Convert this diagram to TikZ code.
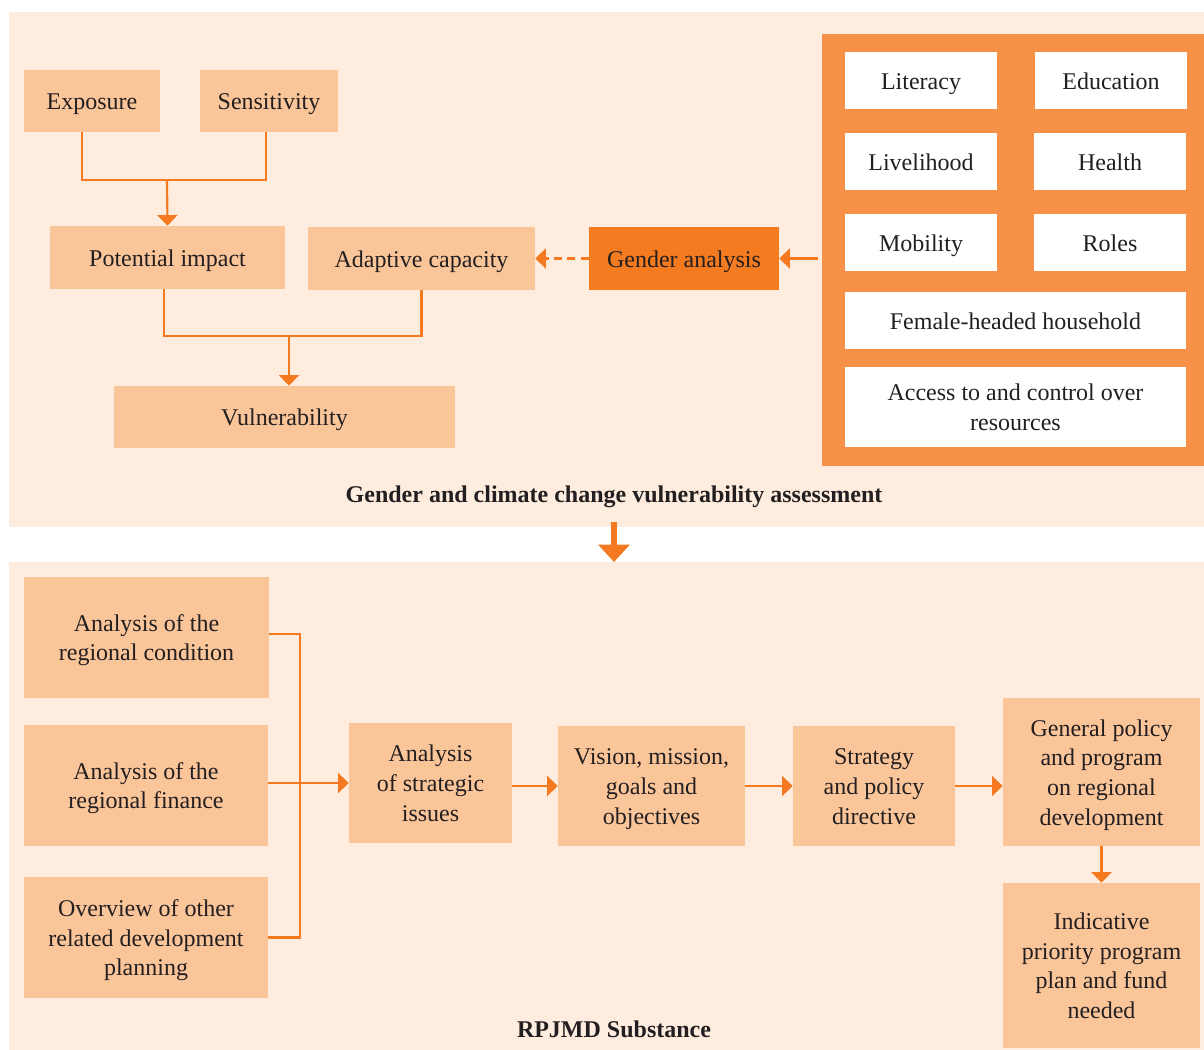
\documentclass[tikz,border=0pt]{standalone}
\usepackage{fontspec}
\setmainfont{Liberation Serif}
\usetikzlibrary{arrows.meta}
\definecolor{bgc}{HTML}{FEEDDF}
\definecolor{boxc}{HTML}{FBC59A}
\definecolor{darkc}{HTML}{F47B20}
\definecolor{framec}{HTML}{F69147}
\definecolor{linec}{HTML}{F47920}
\definecolor{txtc}{HTML}{231F20}
\newcommand{\bxt}[1]{\raisebox{-2pt}[\height][\depth]{\begin{tabular}{@{}c@{}}#1\end{tabular}}}
\tikzset{
  panel/.style={fill=bgc, draw=none, inner sep=0pt},
  box/.style={fill=boxc, draw=none, inner sep=0pt, text=txtc,
    font=\fontsize{18}{22.3}\selectfont},
  wbox/.style={box, fill=white},
  gbox/.style={box, fill=darkc},
  frm/.style={fill=framec, draw=none, inner sep=0pt},
  ttl/.style={text=txtc, font=\fontsize{18}{22.3}\selectfont\bfseries, inner sep=0pt,
    text height=11.9pt, text depth=0pt},
  conn/.style={draw=linec, line width=1.6pt},
  arr/.style={conn, -{Triangle[length=8pt,width=15pt]}},
  darr/.style={arr, dash pattern=on 6pt off 4pt},
  bigarr/.style={draw=linec, line width=4.5pt, -{Triangle[length=13pt,width=23pt]}}
}
\begin{document}
\begin{tikzpicture}[x=0.75pt,y=-0.75pt]
\useasboundingbox (0,0) rectangle (1204,1050);
% panels
\node[panel, minimum width=896.25pt, minimum height=386.25pt] (toppanel) at (606.5,269.5) {};
\node[panel, minimum width=896.25pt, minimum height=366pt] (botpanel) at (606.5,806) {};
% top part
\node[box, minimum width=102pt, minimum height=46.5pt] (exp) at (92,101) {\bxt{Exposure}};
\node[box, minimum width=103.5pt, minimum height=46.5pt] (sens) at (269,101) {\bxt{Sensitivity}};
\node[box, minimum width=176.25pt, minimum height=47.25pt] (pot) at (167.5,257.5) {\bxt{Potential impact}};
\node[box, minimum width=170.25pt, minimum height=47.25pt] (adap) at (421.5,258.5) {\bxt{Adaptive capacity}};
\node[gbox, minimum width=142.5pt, minimum height=47.25pt] (gen) at (684,258.5) {\bxt{Gender analysis}};
\node[box, minimum width=255.75pt, minimum height=46.5pt] (vul) at (284.5,417) {\bxt{Vulnerability}};
\node[frm, minimum width=286.5pt, minimum height=324pt] (frame) at (1013,250) {};
\node[wbox, minimum width=114pt, minimum height=42.75pt] (lit) at (921,80.5) {\bxt{Literacy}};
\node[wbox, minimum width=114pt, minimum height=42.75pt] (edu) at (1111,80.5) {\bxt{Education}};
\node[wbox, minimum width=114pt, minimum height=42.75pt] (liv) at (921,161.5) {\bxt{Livelihood}};
\node[wbox, minimum width=114pt, minimum height=42.75pt] (hea) at (1110,161.5) {\bxt{Health}};
\node[wbox, minimum width=114pt, minimum height=42.75pt] (mob) at (921,242.5) {\bxt{Mobility}};
\node[wbox, minimum width=114pt, minimum height=42.75pt] (rol) at (1110,242.5) {\bxt{Roles}};
\node[wbox, minimum width=255.75pt, minimum height=42.75pt] (fem) at (1015.5,320.5) {\bxt{Female-headed household}};
\node[wbox, minimum width=255.75pt, minimum height=60pt] (acc) at (1015.5,407) {\bxt{Access to and control over\\resources}};
\node[ttl] (t1) at (614,494.7) {Gender and climate change vulnerability assessment};
% top connectors
\coordinate (j1) at (167,180);
\coordinate (j2) at (289,336);
\draw[conn] ([xshift=-7.5pt]exp.south) |- (j1) -| ([xshift=-2.25pt]sens.south);
\draw[arr] (j1) -- (pot.north);
\draw[conn] ([xshift=-2.6pt]pot.south) |- (j2) -| (adap.south);
\draw[arr] (j2) -- (j2 |- vul.north);
\draw[darr] (gen.west) -- (adap.east);
\draw[arr] ([xshift=-3pt]frame.west |- gen.east) -- (gen.east);
% big arrow
\coordinate (ba1) at (614,522);
\coordinate (ba2) at (614,562);
\draw[bigarr] (ba1) -- (ba2);
% bottom part
\node[box, minimum width=183.75pt, minimum height=90.75pt] (cond) at (146.5,637.5) {\bxt{Analysis of the\\regional condition}};
\node[box, minimum width=183pt, minimum height=90.75pt] (fin) at (146,785.5) {\bxt{Analysis of the\\regional finance}};
\node[box, minimum width=183pt, minimum height=90.75pt] (ovw) at (146,937.5) {\bxt{Overview of other\\related development\\planning}};
\node[box, minimum width=122.25pt, minimum height=90pt] (str) at (430.5,783) {\bxt{Analysis\\of strategic\\issues}};
\node[box, minimum width=140.25pt, minimum height=90pt] (vis) at (651.5,786) {\bxt{Vision, mission,\\goals and\\objectives}};
\node[box, minimum width=121.5pt, minimum height=90pt] (stg) at (874,786) {\bxt{Strategy\\and policy\\directive}};
\node[box, minimum width=147.75pt, minimum height=111pt] (pol) at (1101.5,772) {\bxt{General policy\\and program\\on regional\\development}};
\node[box, minimum width=147.75pt, minimum height=123.75pt] (ind) at (1101.5,965.5) {\bxt{Indicative\\priority program\\plan and fund\\needed}};
\node[ttl] (t2) at (614,1029.5) {RPJMD Substance};
% bottom connectors
\coordinate (bx) at (300,783);
\draw[conn] ([yshift=2.6pt]cond.east) -| (bx) |- (ovw.east);
\draw[arr] (fin.east |- str.west) -- (str.west);
\draw[arr] (str.east |- vis.west) -- (vis.west);
\draw[arr] (vis.east) -- (stg.west);
\draw[arr] (stg.east) -- (stg.east -| pol.west);
\draw[arr] (pol.south) -- (ind.north);
\end{tikzpicture}
\end{document}
